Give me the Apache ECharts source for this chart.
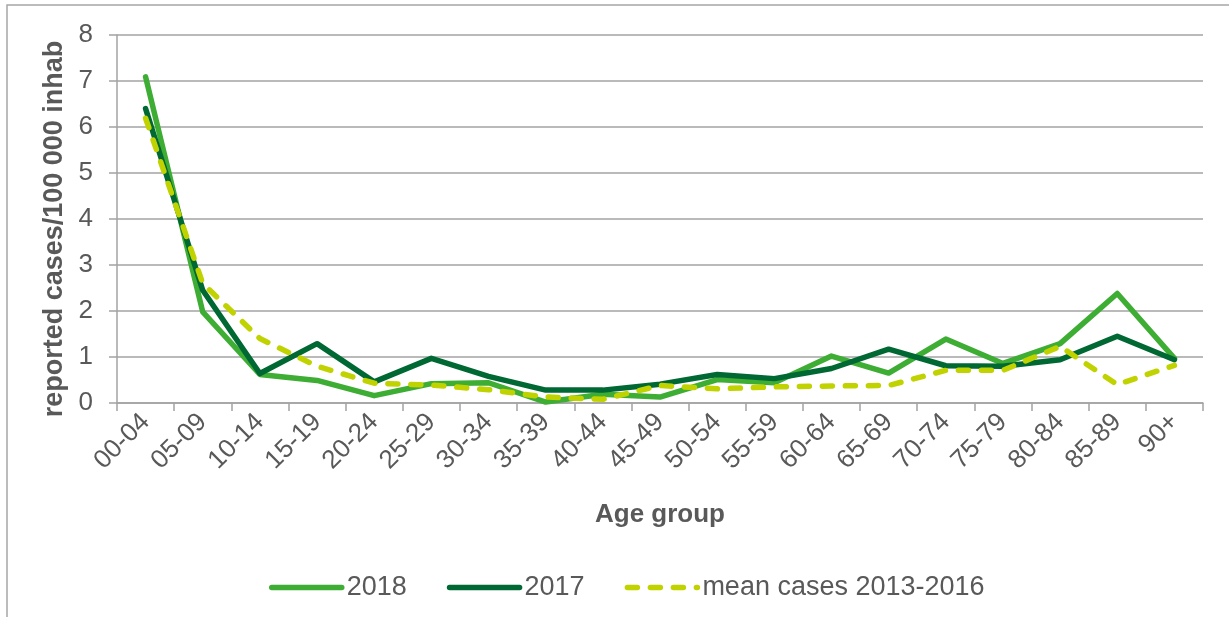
<!DOCTYPE html>
<html>
<head>
<meta charset="utf-8">
<script src="https://cdn.jsdelivr.net/npm/echarts@6/dist/echarts.min.js"></script>
<style>
  html, body { margin: 0; padding: 0; background: #fff; }
  #chart { width: 1229px; height: 617px; }
</style>
</head>
<body>
<div id="chart"></div>
<script>
// age groups on the x axis
const ageGroups = ['00-04', '05-09', '10-14', '15-19', '20-24', '25-29', '30-34', '35-39', '40-44', '45-49',
  '50-54', '55-59', '60-64', '65-69', '70-74', '75-79', '80-84', '85-89', '90+'];

// reported cases per 100 000 inhabitants
const cases2018 = [7.09, 1.98, 0.62, 0.49, 0.16, 0.42, 0.44, 0.02, 0.19, 0.13, 0.51, 0.44, 1.02, 0.65, 1.39, 0.86, 1.29, 2.38, 0.97];
const cases2017 = [6.40, 2.45, 0.64, 1.29, 0.46, 0.97, 0.58, 0.28, 0.28, 0.41, 0.62, 0.53, 0.75, 1.17, 0.81, 0.80, 0.94, 1.45, 0.94];
const meanCases = [6.19, 2.60, 1.40, 0.80, 0.43, 0.39, 0.29, 0.13, 0.08, 0.38, 0.31, 0.35, 0.37, 0.38, 0.71, 0.71, 1.23, 0.40, 0.82];

const font = 'Liberation Sans, Arial, sans-serif';
const textColor = '#595959';
const gridColor = '#a3a3a3';

const chart = echarts.init(document.getElementById('chart'));

const option = {
  backgroundColor: '#fff',
  animation: false,
  textStyle: { fontFamily: font, color: textColor },
  graphic: [
    {
      type: 'rect',
      shape: { x: 7, y: 5, width: 1400, height: 800 },
      style: { fill: 'none', stroke: '#a6a6a6', lineWidth: 1.5 },
      silent: true
    }
  ],
  grid: { left: 117, right: 26, top: 35, bottom: 214 },
  legend: {
    left: 264,
    top: 569,
    itemWidth: 70,
    itemHeight: 14,
    itemGap: 40,
    itemStyle: { opacity: 0 },
    lineStyle: { width: 5.5, cap: 'round' },
    textStyle: { fontFamily: font, fontSize: 27, color: textColor },
    data: ['2018', '2017', 'mean cases 2013-2016']
  },
  xAxis: {
    type: 'category',
    data: ageGroups,
    boundaryGap: true,
    name: 'Age group',
    nameLocation: 'middle',
    nameGap: 99,
    nameTextStyle: { fontFamily: font, fontSize: 26, fontWeight: 'bold', color: textColor },
    axisLine: { lineStyle: { color: gridColor, width: 1.5 } },
    axisTick: { show: true, length: 8, alignWithLabel: false, lineStyle: { color: gridColor, width: 1.5 } },
    axisLabel: {
      interval: 0,
      rotate: 45,
      margin: 15,
      fontFamily: font,
      fontSize: 26,
      color: textColor
    }
  },
  yAxis: {
    type: 'value',
    min: 0,
    max: 8,
    interval: 1,
    name: 'reported cases/100 000 inhab',
    nameLocation: 'middle',
    nameGap: 46,
    nameRotate: 90,
    nameTextStyle: {
      fontFamily: font,
      fontSize: 27,
      fontWeight: 'bold',
      color: textColor,
      padding: [0, 20, 0, 0]
    },
    axisLine: { show: true, lineStyle: { color: gridColor, width: 1.5 } },
    axisTick: { show: true, length: 8, lineStyle: { color: gridColor, width: 1.5 } },
    axisLabel: { margin: 24, fontFamily: font, fontSize: 26, color: textColor },
    splitLine: { lineStyle: { color: gridColor, width: 1.5 } }
  },
  series: [
    {
      name: '2018',
      type: 'line',
      data: cases2018,
      symbol: 'none',
      color: '#3dad34',
      lineStyle: { color: '#3dad34', width: 5.5, cap: 'round', join: 'round' }
    },
    {
      name: '2017',
      type: 'line',
      data: cases2017,
      symbol: 'none',
      color: '#006832',
      lineStyle: { color: '#006832', width: 5.5, cap: 'round', join: 'round' }
    },
    {
      name: 'mean cases 2013-2016',
      type: 'line',
      data: meanCases,
      symbol: 'none',
      color: '#c0d300',
      lineStyle: { color: '#c0d300', width: 5.5, type: [10, 13], cap: 'round', join: 'round' }
    }
  ]
};

chart.setOption(option);
</script>
</body>
</html>
